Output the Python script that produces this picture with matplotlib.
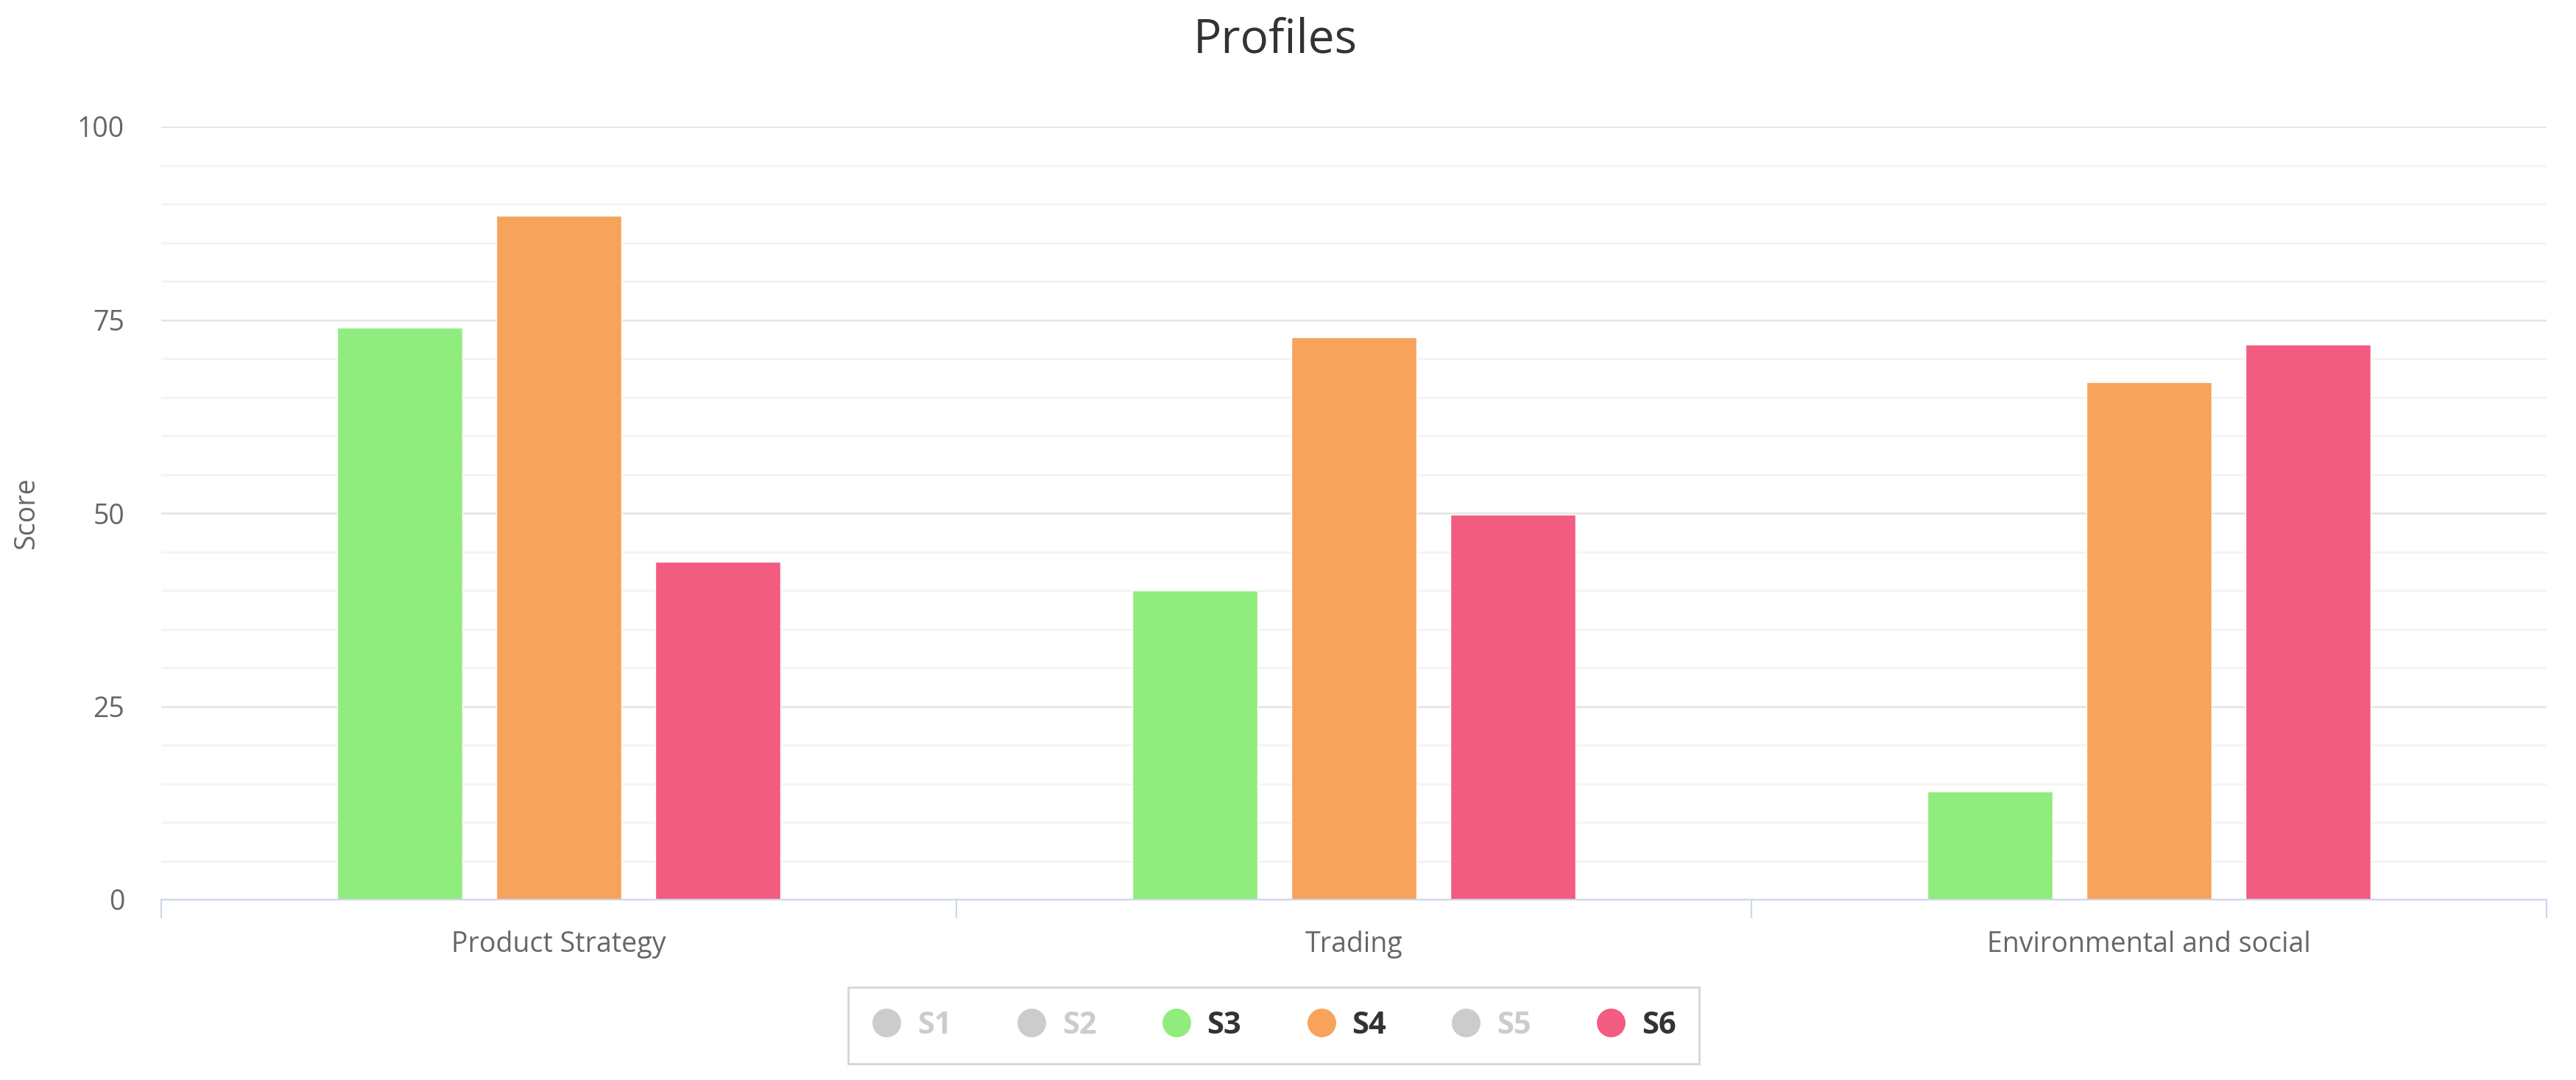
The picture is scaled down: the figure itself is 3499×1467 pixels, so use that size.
import matplotlib
matplotlib.use("Agg")
import matplotlib.pyplot as plt
from matplotlib.lines import Line2D
from matplotlib.ticker import MultipleLocator, FixedLocator
import numpy as np

plt.rcParams['font.family'] = ['Open Sans', 'DejaVu Sans']

categories = ["Product Strategy", "Trading", "Environmental and social"]
series_names = ["S1", "S2", "S3", "S4", "S5", "S6"]
series_visible = [False, False, True, True, False, True]
series_colors = ["#7cb5ec", "#434348", "#90ed7d", "#f7a35c", "#8085e9", "#f15c80"]
s3_values = [74.0, 40.0, 14.0]
s4_values = [88.5, 72.8, 67.0]
s6_values = [43.7, 49.8, 71.8]
visible_values = {"S3": s3_values, "S4": s4_values, "S6": s6_values}
y_ticks = [0, 25, 50, 75, 100]

W, H, DPI = 3499, 1467, 100
fig = plt.figure(figsize=(W / DPI, H / DPI), dpi=DPI)
fig.patch.set_facecolor("white")

left, right, top, bottom = 219, 3459, 172, 1222
ax = fig.add_axes([left / W, 1 - bottom / H, (right - left) / W, (bottom - top) / H])

x = np.arange(len(categories))
offsets = {"S3": -0.2, "S4": 0.0, "S6": 0.2}
bar_w = 0.158
for name, color in zip(series_names, series_colors):
    if name in visible_values:
        ax.bar(x + offsets[name], visible_values[name], width=bar_w, color=color,
               edgecolor="white", linewidth=1.0, zorder=3)

ax.set_xlim(-0.5, len(categories) - 0.5)
ax.set_ylim(0, 100)

# y grid
ax.yaxis.set_major_locator(FixedLocator(y_ticks))
ax.yaxis.set_minor_locator(MultipleLocator(5))
ax.grid(axis="y", which="major", color="#e3e3e3", linewidth=1.8, zorder=0)
ax.grid(axis="y", which="minor", color="#f2f2f2", linewidth=1.8, zorder=0)
ax.tick_params(axis="y", which="both", length=0, labelsize=27, labelcolor="#666666", pad=36)
ax.set_yticklabels([str(t) for t in y_ticks])

# x axis
ax.set_xticks(x)
ax.set_xticklabels(categories)
ax.xaxis.set_minor_locator(FixedLocator(np.arange(-0.5, len(categories), 1.0)))
ax.tick_params(axis="x", which="major", length=0, labelsize=27, labelcolor="#666666", pad=30)
ax.tick_params(axis="x", which="minor", length=18, width=1.5, color="#ccd6eb")

for s in ["top", "right", "left"]:
    ax.spines[s].set_visible(False)
ax.spines["bottom"].set_color("#ccd6eb")
ax.spines["bottom"].set_linewidth(1.6)
ax.spines["bottom"].set_zorder(4)

# y label and title
fig.text(36 / W, 1 - ((top + bottom) / 2) / H, "Score", rotation=90, ha="center", va="center",
         fontsize=27, color="#666666")
fig.text(1732 / W, 1 - 54 / H, "Profiles", ha="center", va="center", fontsize=46, color="#333333")

# legend
handles = []
for name, color, vis in zip(series_names, series_colors, series_visible):
    c = color if vis else "#cccccc"
    handles.append(Line2D([], [], linestyle="none", marker="o", markersize=27,
                          markerfacecolor=c, markeredgecolor=c))
leg = fig.legend(handles, series_names, loc="center", bbox_to_anchor=(1730 / W, 1 - 1393 / H),
                 bbox_transform=fig.transFigure, ncol=6, frameon=True, fancybox=False,
                 prop={"size": 30, "weight": "bold"}, handlelength=1.0, handletextpad=0.5,
                 columnspacing=2.1, borderpad=0.75)
leg.get_frame().set_edgecolor("#cccccc")
leg.get_frame().set_linewidth(2.0)
for txt, vis in zip(leg.get_texts(), series_visible):
    txt.set_color("#333333" if vis else "#cccccc")

fig.savefig("out.png", dpi=DPI, facecolor="white")
